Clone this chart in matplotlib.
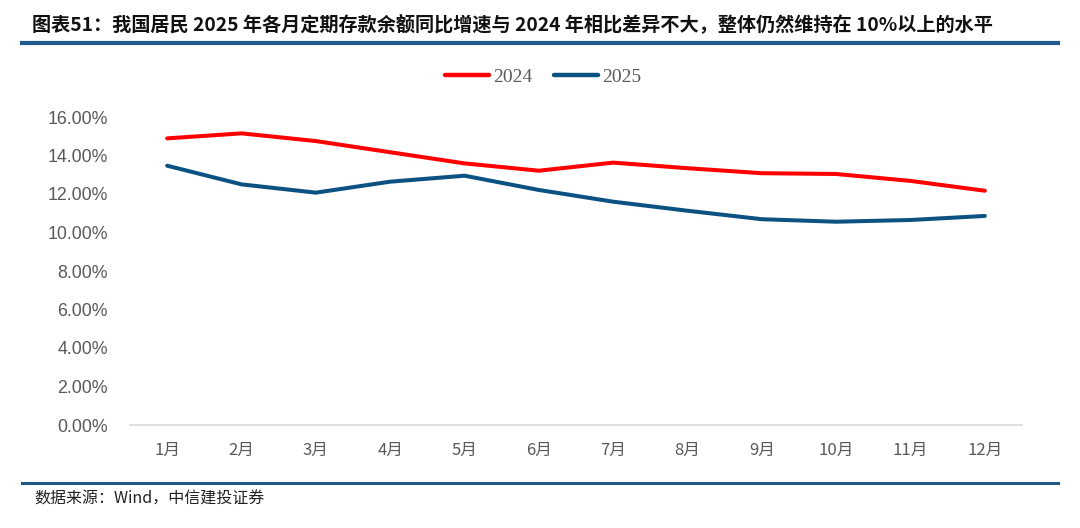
import matplotlib.pyplot as plt
from matplotlib.ticker import FuncFormatter
from matplotlib.lines import Line2D

plt.rcParams['font.family'] = ['Noto Sans CJK SC', 'DejaVu Sans']

months = ['1月', '2月', '3月', '4月', '5月', '6月', '7月', '8月', '9月', '10月', '11月', '12月']
growth_2024 = [14.89, 15.15, 14.75, 14.17, 13.59, 13.21, 13.63, 13.34, 13.08, 13.04, 12.68, 12.17]
growth_2025 = [13.47, 12.50, 12.07, 12.64, 12.95, 12.21, 11.60, 11.13, 10.69, 10.56, 10.65, 10.86]
y_ticks = [0, 2, 4, 6, 8, 10, 12, 14, 16]

title = '图表51：我国居民 2025 年各月定期存款余额同比增速与 2024 年相比差异不大，整体仍然维持在 10%以上的水平'
source = '数据来源：Wind，中信建投证券'

red = '#FF0000'
blue = '#0B5283'
dark_blue = '#1F5A8A'
gray = '#595959'

fig = plt.figure(figsize=(10.8, 5.28), dpi=100)
ax = fig.add_axes([130 / 1080, 1 - 425 / 528, (1022 - 130) / 1080, (425 - 117) / 528])

x = list(range(len(months)))
ax.plot(x, growth_2024, color=red, linewidth=2.9, solid_capstyle='round', clip_on=False, zorder=3)
ax.plot(x, growth_2025, color=blue, linewidth=2.9, solid_capstyle='round', clip_on=False, zorder=3)

ax.set_xlim(-0.5, len(months) - 0.5)
ax.set_ylim(0, 16)
ax.set_yticks(y_ticks)
ax.yaxis.set_major_formatter(FuncFormatter(lambda v, p: f'{v:.2f}%'))
ax.set_xticks(x)
ax.set_xticklabels(months)
ax.tick_params(axis='both', length=0, colors=gray, labelsize=12)
ax.tick_params(axis='y', pad=16, labelsize=12.8)
ax.tick_params(axis='x', pad=12)
for label in ax.get_yticklabels():
    label.set_family(['Liberation Sans', 'DejaVu Sans'])
for side in ['top', 'right', 'left']:
    ax.spines[side].set_visible(False)
ax.spines['bottom'].set_color('#D9D9D9')
ax.spines['bottom'].set_linewidth(1.2)

handles = [Line2D([], [], color=red, linewidth=3.2, solid_capstyle='round'),
           Line2D([], [], color=blue, linewidth=3.2, solid_capstyle='round')]
fig.legend(handles, ['2024', '2025'], loc='center', bbox_to_anchor=(543 / 1080, 1 - 77 / 528),
           ncol=2, frameon=False, handlelength=2.3, handletextpad=0.2, columnspacing=1.1,
           prop={'family': 'Liberation Serif', 'size': 14}, labelcolor=gray)

fig.text(32 / 1080, 1 - 24 / 528, title, fontsize=13.8, fontweight='bold', va='center', ha='left', color='#111111')
fig.add_artist(Line2D([22 / 1080, 1058 / 1080], [1 - 43 / 528] * 2, color=dark_blue, linewidth=3))
fig.add_artist(Line2D([22 / 1080, 1058 / 1080], [1 - 483 / 528] * 2, color=dark_blue, linewidth=2.2))
fig.text(34 / 1080, 1 - 499 / 528, source, fontsize=11.5, style='italic', va='center', ha='left', color='#222222')

fig.savefig('out.png', dpi=100)
